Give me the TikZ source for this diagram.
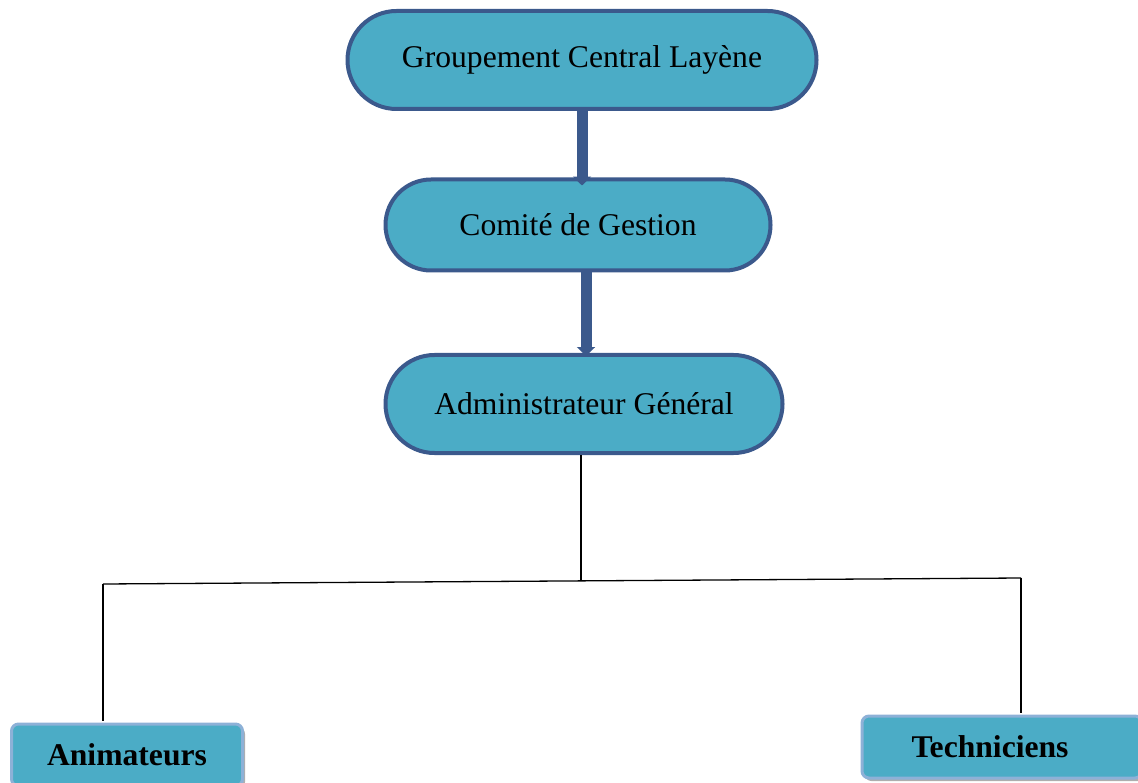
\documentclass[tikz,border=0pt]{standalone}
\usepackage{fontspec}
\setmainfont{Liberation Serif}
\usepackage{tikz}
\newcommand{\px}{0.02cm}
\definecolor{boxFill}{RGB}{75,172,198}
\definecolor{boxLine}{RGB}{59,89,140}
\definecolor{boxLight}{RGB}{141,177,215}
\usetikzlibrary{arrows.meta,shapes.misc,shadows}
\tikzset{
  >=stealth,
  font=\fontsize{18}{22}\selectfont,
  pill/.style={draw=boxLine,fill=boxFill,shape=rounded rectangle,line width=4*\px,inner sep=0},
  leaf/.style={draw=boxLight,fill=boxFill,shape=rectangle,rounded corners=7*\px,line width=3*\px,font=\fontsize{18}{22}\selectfont\bfseries,
    drop shadow={shadow xshift=2.5*\px,shadow yshift=-3*\px,fill=black!45,opacity=0.7}},
  bigarrow/.style={draw=boxLine,line width=11*\px,-{Triangle[width=10pt,length=5pt]}},
  line/.style={draw,line width=1.3*\px},
}
\begin{document}
\begin{tikzpicture}[x=\px,y=-\px]
      \useasboundingbox (0,0) rectangle (1138,783);
      \node (gcl) [pill,minimum width=469*\px,minimum height=98*\px] at (582,60) {Groupement Central Layène};
      \node (cg) [pill,minimum width=385*\px,minimum height=91*\px] at (578,225) {Comité de Gestion};
      \node (ag) [pill,minimum width=397*\px,minimum height=98*\px] at (584,404) {Administrateur Général};
      \node (anim) [leaf,minimum width=231*\px,minimum height=62*\px] at (127,755) {Animateurs};
      \node (tech) [leaf,minimum width=280*\px,minimum height=62*\px] at (1002,747) {Techniciens\kern0.48cm};
      % junctions of the tree
      \coordinate (jm) at (581,580);
      \coordinate (jl) at (103,584);
      \coordinate (jr) at (1021,578);
      \path [bigarrow] (gcl.south) -- ([yshift=-8*\px]gcl.south |- cg.north);
      \path [bigarrow] ([xshift=2*\px]ag.north |- cg.south) -- ([xshift=2*\px,yshift=-3*\px]ag.north);
      \path [line] (jm |- ag.south) -- (jm);
      \path [line] (jl) -- (jr);
      \path [line] (jl) -- ([yshift=2*\px]jl |- anim.north);
      \path [line] (jr) -- ([yshift=2*\px]jr |- tech.north);
\end{tikzpicture}
\end{document}
